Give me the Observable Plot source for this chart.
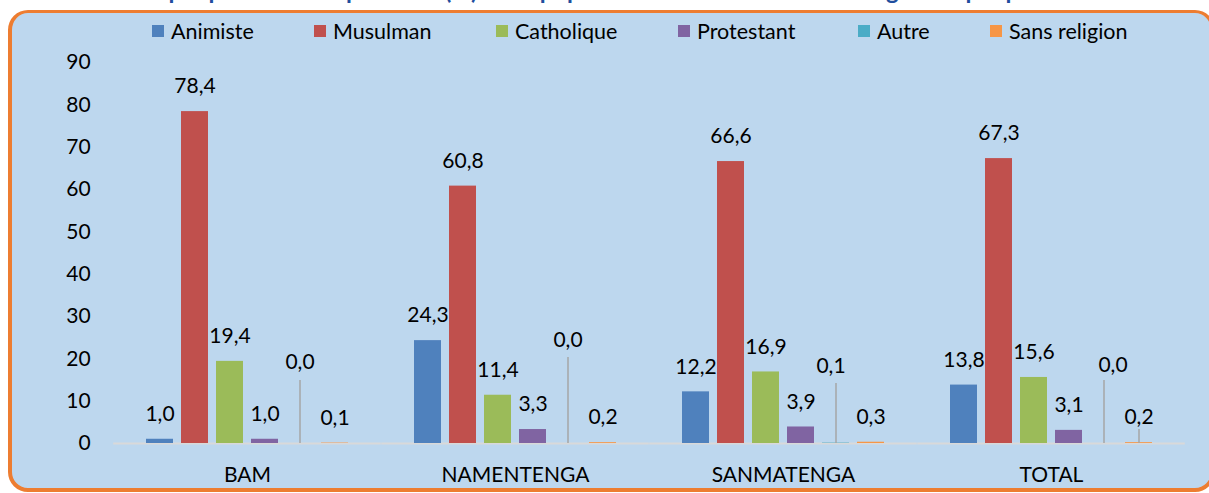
<!DOCTYPE html>
<html>
<head>
<meta charset="utf-8">
<script src="https://cdn.jsdelivr.net/npm/d3@7"></script>
<script src="https://cdn.jsdelivr.net/npm/@observablehq/plot@0.6"></script>
<style>
html,body{margin:0;padding:0;background:#fff;}
body{width:1209px;height:493px;position:relative;overflow:hidden;font-family:Lato,sans-serif;}
#title{position:absolute;left:0;top:-24px;width:1209px;text-align:center;font-weight:bold;font-size:24px;line-height:1.2;color:#1f4e9e;white-space:nowrap;}
#frame{position:absolute;left:8px;top:10px;width:1199px;height:475px;border:4px solid #ed7d31;border-top-width:3px;border-radius:20px;background:#bdd7ee;}
#legend{position:absolute;left:0;top:17px;width:1209px;height:28px;font-size:21.5px;color:#000;white-space:nowrap;}
.item{position:absolute;top:0;display:flex;align-items:center;height:28px;}
.sw{width:12px;height:12px;margin-right:7px;}
#chart{position:absolute;left:0;top:48px;}
</style>
</head>
<body>
<div id="title">Suivi par province : Répartition (%) de la population résidente selon la religion et par province</div>
<div id="frame"></div>
<div id="legend"></div>
<div id="chart"></div>
<script>
// ---- data ----
const regions = ["BAM", "NAMENTENGA", "SANMATENGA", "TOTAL"];
const religions = ["Animiste", "Musulman", "Catholique", "Protestant", "Autre", "Sans religion"];
const colors = ["#4f81bd", "#c0504d", "#9bbb59", "#8064a2", "#4bacc6", "#f79646"];
const animiste = [1.0, 24.3, 12.2, 13.8];
const musulman = [78.4, 60.8, 66.6, 67.3];
const catholique = [19.4, 11.4, 16.9, 15.6];
const protestant = [1.0, 3.3, 3.9, 3.1];
const autre = [0.0, 0.0, 0.1, 0.0];
const sansReligion = [0.1, 0.2, 0.3, 0.2];
const yTicks = [0, 10, 20, 30, 40, 50, 60, 70, 80, 90];

// ---- build table ----
const series = [animiste, musulman, catholique, protestant, autre, sansReligion];
const table = regions.flatMap((r, i) => religions.map((rel, j) => ({region: r, religion: rel, value: series[j][i]})));
const fmt = v => v.toFixed(1).replace(".", ",");

// data-label placement for labels that Excel moved away from their bars (leader lines)
const leaderPlacement = [
  {region: "BAM", religion: "Autre", labelAt: 19.1, lineTop: 14.9, dx: 0},
  {region: "NAMENTENGA", religion: "Autre", labelAt: 24.3, lineTop: 20.3, dx: 0},
  {region: "SANMATENGA", religion: "Autre", labelAt: 18.2, lineTop: 14.2, dx: -5},
  {region: "TOTAL", religion: "Autre", labelAt: 18.4, lineTop: 14.9, dx: 9}
];
const shortLeaders = [{region: "TOTAL", religion: "Sans religion", lineTop: 3.3}];
const movedKeys = new Set(leaderPlacement.map(d => d.region + "|" + d.religion));
const leaderRows = leaderPlacement.map(p => ({...p, value: table.find(t => t.region === p.region && t.religion === p.religion).value}));

// ---- legend (layout: left edge of each swatch) ----
const legendLeft = [152, 314, 496, 678, 858, 990];
const legend = document.getElementById("legend");
religions.forEach((rel, i) => {
  const it = document.createElement("div");
  it.className = "item";
  it.style.left = legendLeft[i] + "px";
  const sw = document.createElement("span");
  sw.className = "sw";
  sw.style.background = colors[i];
  const tx = document.createElement("span");
  tx.textContent = rel;
  it.appendChild(sw); it.appendChild(tx);
  legend.appendChild(it);
});

// ---- chart ----
const W = 1209, ML = 113, MR = 24;
const fxPadInner = 0.2, fxPadOuter = 0.1;
// half of the gap between facets, so the baseline reads as one continuous axis line
const step = (W - ML - MR) / (regions.length - fxPadInner + 2 * fxPadOuter);
const halfGap = step * fxPadOuter;

const chart = Plot.plot({
  width: W,
  height: 445,
  marginLeft: ML,
  marginRight: MR,
  marginTop: 14,
  marginBottom: 50,
  style: {background: "transparent", fontFamily: "Lato, sans-serif", fontSize: "21px", color: "#000", overflow: "visible"},
  fx: {domain: regions, paddingInner: fxPadInner, paddingOuter: fxPadOuter, label: null},
  x: {domain: religions, paddingInner: 0.22, paddingOuter: 0.11, axis: null},
  y: {domain: [0, 90], label: null},
  color: {domain: religions, range: colors},
  marks: [
    Plot.axisY(yTicks, {tickSize: 0, tickPadding: 23 + halfGap, label: null, fontSize: 21, tickFormat: d => String(d)}),
    Plot.axisFx({anchor: "bottom", tickSize: 0, tickPadding: 24, label: null, fontSize: 21}),
    Plot.ruleY([0], {stroke: "#d9d9d9", strokeWidth: 2, insetLeft: -halfGap, insetRight: -halfGap}),
    Plot.barY(table, {fx: "region", x: "religion", y: "value", fill: "religion"}),
    Plot.text(table.filter(d => !movedKeys.has(d.region + "|" + d.religion)), {
      fx: "region", x: "religion", y: "value", text: d => fmt(d.value),
      dy: -25, lineAnchor: "middle", fontSize: 21, fill: "#000"
    }),
    Plot.ruleX(leaderRows, {fx: "region", x: "religion", y1: 0, y2: "lineTop", stroke: "#a6a6a6", strokeWidth: 1.5}),
    Plot.ruleX(shortLeaders, {fx: "region", x: "religion", y1: 0, y2: "lineTop", stroke: "#a6a6a6", strokeWidth: 1.5}),
    ...leaderRows.map(d => Plot.text([d], {
      fx: "region", x: "religion", y: "labelAt", text: r => fmt(r.value),
      dx: d.dx, lineAnchor: "middle", fontSize: 21, fill: "#000"
    }))
  ]
});
document.getElementById("chart").appendChild(chart);
</script>
</body>
</html>
